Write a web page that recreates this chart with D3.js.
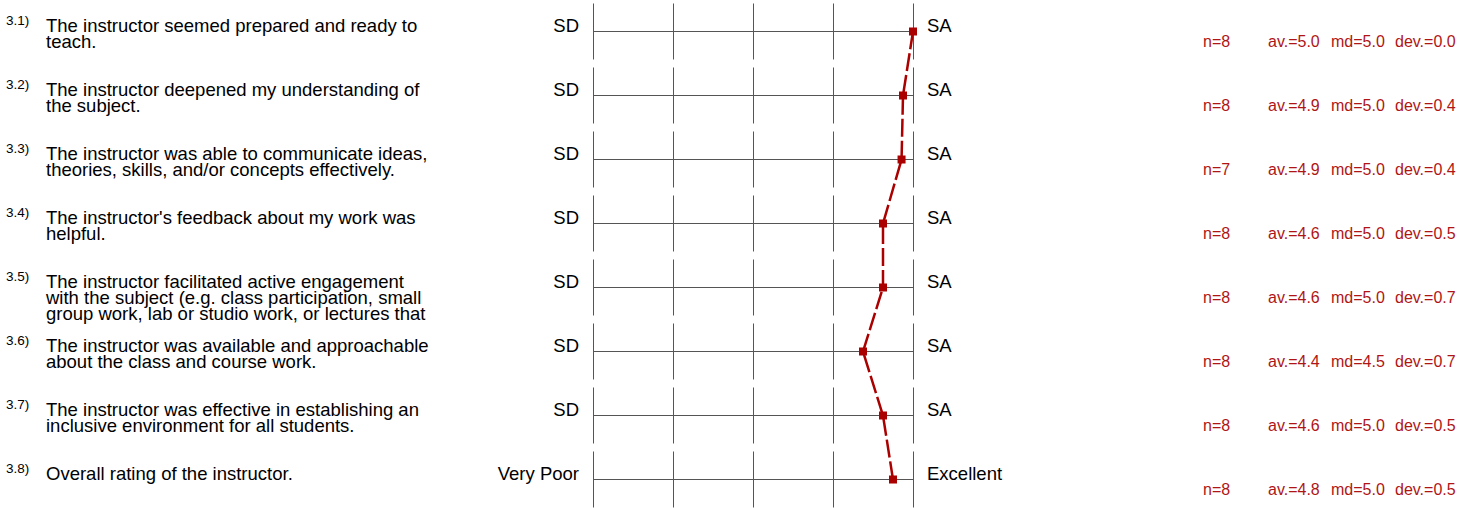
<!DOCTYPE html>
<html>
<head>
<meta charset="utf-8">
<script src="https://cdn.jsdelivr.net/npm/d3@7"></script>
<style>
  body { margin: 0; background: #fff; }
  svg { display: block; font-family: "Liberation Sans", Arial, sans-serif; }
</style>
</head>
<body>
<svg id="chart"></svg>
<script>
const width = 1473
const height = 508

// question numbers and text (already wrapped as in the report)
const numbers = ['3.1)', '3.2)', '3.3)', '3.4)', '3.5)', '3.6)', '3.7)', '3.8)']
const questions = [
  ['The instructor seemed prepared and ready to', 'teach.'],
  ['The instructor deepened my understanding of', 'the subject.'],
  ['The instructor was able to communicate ideas,', 'theories, skills, and/or concepts effectively.'],
  ["The instructor's feedback about my work was", 'helpful.'],
  ['The instructor facilitated active engagement', 'with the subject (e.g. class participation, small', 'group work, lab or studio work, or lectures that'],
  ['The instructor was available and approachable', 'about the class and course work.'],
  ['The instructor was effective in establishing an', 'inclusive environment for all students.'],
  ['Overall rating of the instructor.']
]
const leftLabels = ['SD', 'SD', 'SD', 'SD', 'SD', 'SD', 'SD', 'Very Poor']
const rightLabels = ['SA', 'SA', 'SA', 'SA', 'SA', 'SA', 'SA', 'Excellent']

// profile values (exact means) and printed stats
const means = [5.0, 4.875, 4.857, 4.625, 4.625, 4.375, 4.625, 4.75]
const nVals = [8, 8, 7, 8, 8, 8, 8, 8]
const avVals = ['5.0', '4.9', '4.9', '4.6', '4.6', '4.4', '4.6', '4.8']
const mdVals = ['5.0', '5.0', '5.0', '5.0', '5.0', '4.5', '5.0', '5.0']
const devVals = ['0.0', '0.4', '0.4', '0.5', '0.7', '0.7', '0.5', '0.5']

const scaleTicks = [1, 2, 3, 4, 5]
const red = '#aa0000'

const svg = d3.select('#chart')
  .attr('width', width)
  .attr('height', height)

const x = d3.scaleLinear().domain([1, 5]).range([593, 913])
const y = d3.scalePoint().domain(d3.range(means.length)).range([31.5, 479.5])

const rows = svg.selectAll('g.row')
  .data(means)
  .join('g')
  .attr('class', 'row')
  .attr('transform', (d, i) => `translate(0,${y(i)})`)

// question number
rows.append('text')
  .attr('x', 6)
  .attr('y', -7)
  .attr('font-size', 13.5)
  .attr('fill', '#000')
  .text((d, i) => numbers[i])

// question text
rows.append('text')
  .attr('font-size', 18.5)
  .attr('fill', '#000')
  .selectAll('tspan')
  .data((d, i) => questions[i])
  .join('tspan')
  .attr('x', 46)
  .attr('y', (d, j) => 0.5 + j * 16)
  .text(d => d)

// grid
rows.append('line')
  .attr('x1', x(1)).attr('x2', x(5))
  .attr('y1', 0).attr('y2', 0)
  .attr('stroke', '#555').attr('stroke-width', 1)

rows.selectAll('line.tick')
  .data(scaleTicks)
  .join('line')
  .attr('class', 'tick')
  .attr('x1', d => x(d) + 0.5).attr('x2', d => x(d) + 0.5)
  .attr('y1', -28).attr('y2', 28)
  .attr('stroke', '#555').attr('stroke-width', 1)

// pole labels
rows.append('text')
  .attr('x', 579)
  .attr('y', 0)
  .attr('text-anchor', 'end')
  .attr('font-size', 18.5)
  .text((d, i) => leftLabels[i])

rows.append('text')
  .attr('x', 927)
  .attr('y', 0)
  .attr('font-size', 18.5)
  .text((d, i) => rightLabels[i])

// stats
const stat = (xPos, fn) => rows.append('text')
  .attr('x', xPos)
  .attr('y', 15)
  .attr('font-size', 16)
  .attr('fill', '#b01515')
  .text(fn)

stat(1203, (d, i) => 'n=' + nVals[i])
stat(1268, (d, i) => 'av.=' + avVals[i])
stat(1331, (d, i) => 'md=' + mdVals[i])
stat(1395, (d, i) => 'dev.=' + devVals[i])

// profile line
const line = d3.line()
  .x(d => x(d))
  .y((d, i) => y(i))

svg.append('path')
  .datum(means)
  .attr('d', line)
  .attr('fill', 'none')
  .attr('stroke', red)
  .attr('stroke-width', 2.5)
  .attr('stroke-dasharray', '18,4')

svg.selectAll('rect.mark')
  .data(means)
  .join('rect')
  .attr('class', 'mark')
  .attr('x', d => x(d) - 4)
  .attr('y', (d, i) => y(i) - 4)
  .attr('width', 8)
  .attr('height', 8)
  .attr('fill', red)
</script>
</body>
</html>
